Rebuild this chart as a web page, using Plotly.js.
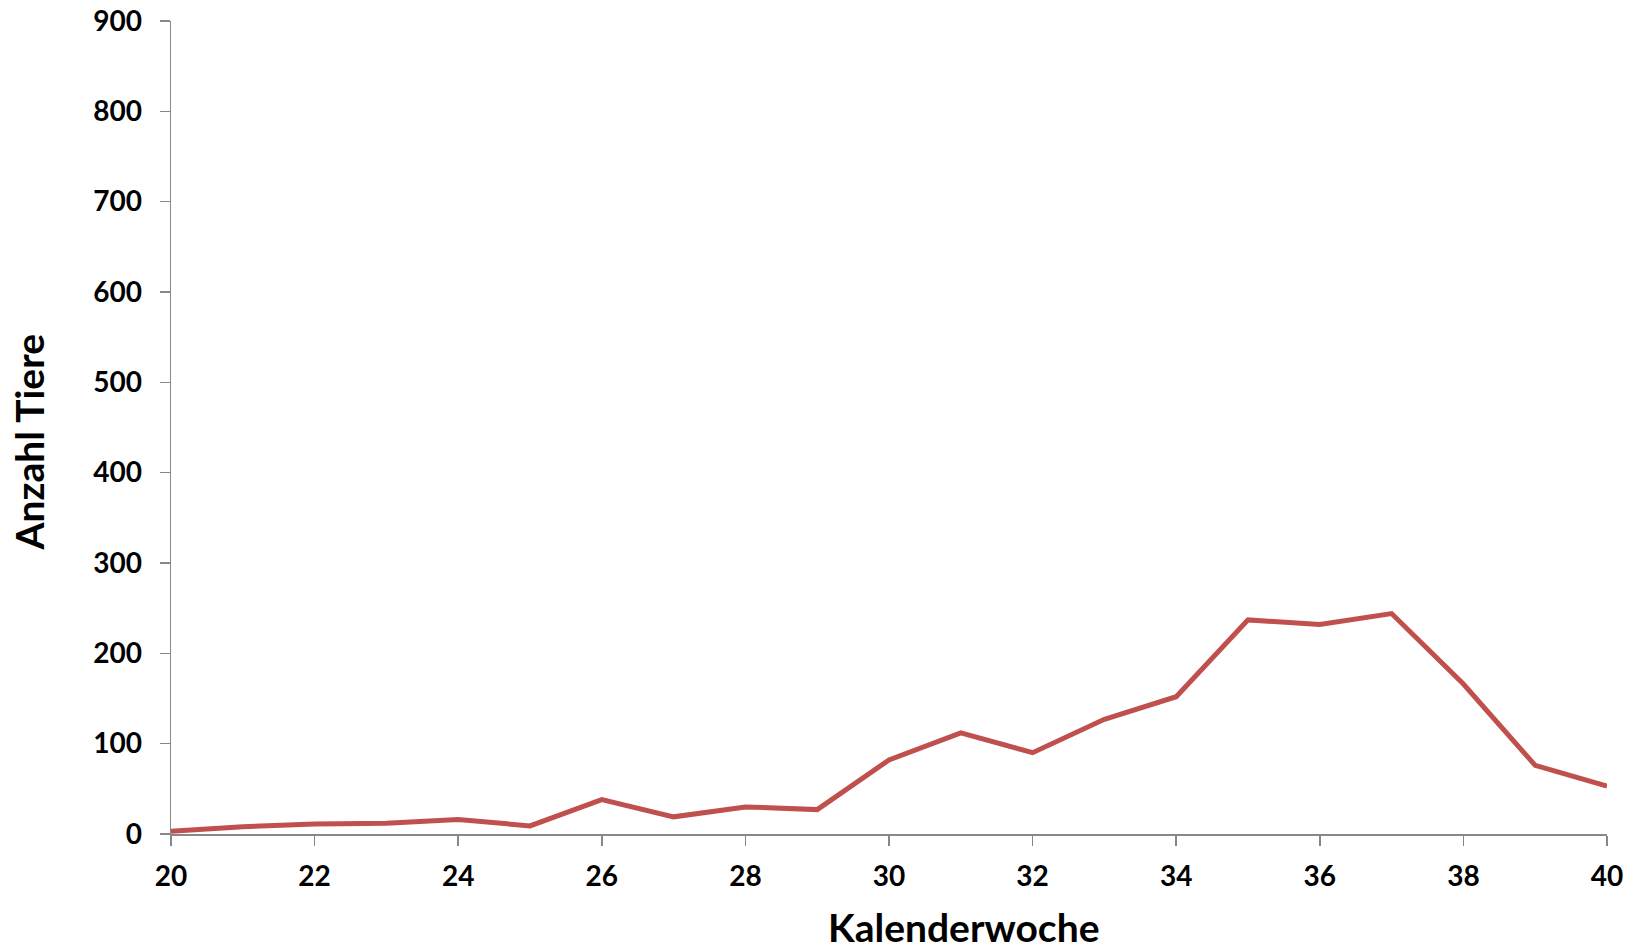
<!DOCTYPE html>
<html>
<head>
<meta charset="utf-8">
<script src="https://cdn.plot.ly/plotly-3.0.1.min.js"></script>
<style>
html,body{margin:0;padding:0;background:#fff;}
#chart{width:1631px;height:952px;}
</style>
</head>
<body>
<div id="chart"></div>
<script>
const weeks = [20,21,22,23,24,25,26,27,28,29,30,31,32,33,34,35,36,37,38,39,40];
const animals = [3,8,11,12,16,9,38,19,30,27,82,112,90,127,152,237,232,244,166,76,53];
const xTickVals = [20,22,24,26,28,30,32,34,36,38,40];
const yTickVals = [0,100,200,300,400,500,600,700,800,900];
const xTitle = 'Kalenderwoche';
const yTitle = 'Anzahl Tiere';

const fontFam = 'Lato, Carlito, Calibri, sans-serif';

const trace = {
  x: weeks,
  y: animals,
  type: 'scatter',
  mode: 'lines',
  line: {color: '#C0504D', width: 5},
  hoverinfo: 'x+y'
};

const layout = {
  width: 1631,
  height: 952,
  margin: {l: 171, r: 24, t: 21, b: 118},
  paper_bgcolor: '#ffffff',
  plot_bgcolor: '#ffffff',
  showlegend: false,
  font: {family: fontFam, color: '#000', size: 28, weight: 700},
  xaxis: {
    range: [20, 40],
    tickmode: 'array',
    tickvals: xTickVals,
    ticktext: xTickVals.map(String),
    showgrid: false,
    zeroline: false,
    showline: true,
    linecolor: '#888888',
    linewidth: 1.5,
    ticks: 'outside',
    ticklen: 10,
    tickwidth: 1.5,
    tickcolor: '#888888',
    ticklabelstandoff: 7,
    tickfont: {family: fontFam, size: 28, color: '#000', weight: 700}
  },
  yaxis: {
    range: [0, 900],
    tickmode: 'array',
    tickvals: yTickVals,
    ticktext: yTickVals.map(String),
    showgrid: false,
    zeroline: false,
    showline: true,
    linecolor: '#888888',
    linewidth: 1.5,
    ticks: 'outside',
    ticklen: 10,
    tickwidth: 1.5,
    tickcolor: '#888888',
    ticklabelstandoff: 12,
    tickfont: {family: fontFam, size: 28, color: '#000', weight: 700}
  },
  annotations: [
    {
      text: xTitle,
      xref: 'paper', yref: 'paper',
      x: 0.5, y: 0,
      xanchor: 'center', yanchor: 'middle',
      xshift: 74,
      yshift: -93,
      borderpad: 0,
      showarrow: false,
      font: {family: fontFam, size: 39, color: '#000', weight: 700}
    },
    {
      text: yTitle,
      xref: 'paper', yref: 'paper',
      x: 0, y: 0.5,
      xanchor: 'center', yanchor: 'middle',
      xshift: -143,
      yshift: -15,
      borderpad: 0,
      textangle: -90,
      showarrow: false,
      font: {family: fontFam, size: 39, color: '#000', weight: 700}
    }
  ]
};

Plotly.newPlot('chart', [trace], layout, {displayModeBar: false, staticPlot: true});
</script>
</body>
</html>
